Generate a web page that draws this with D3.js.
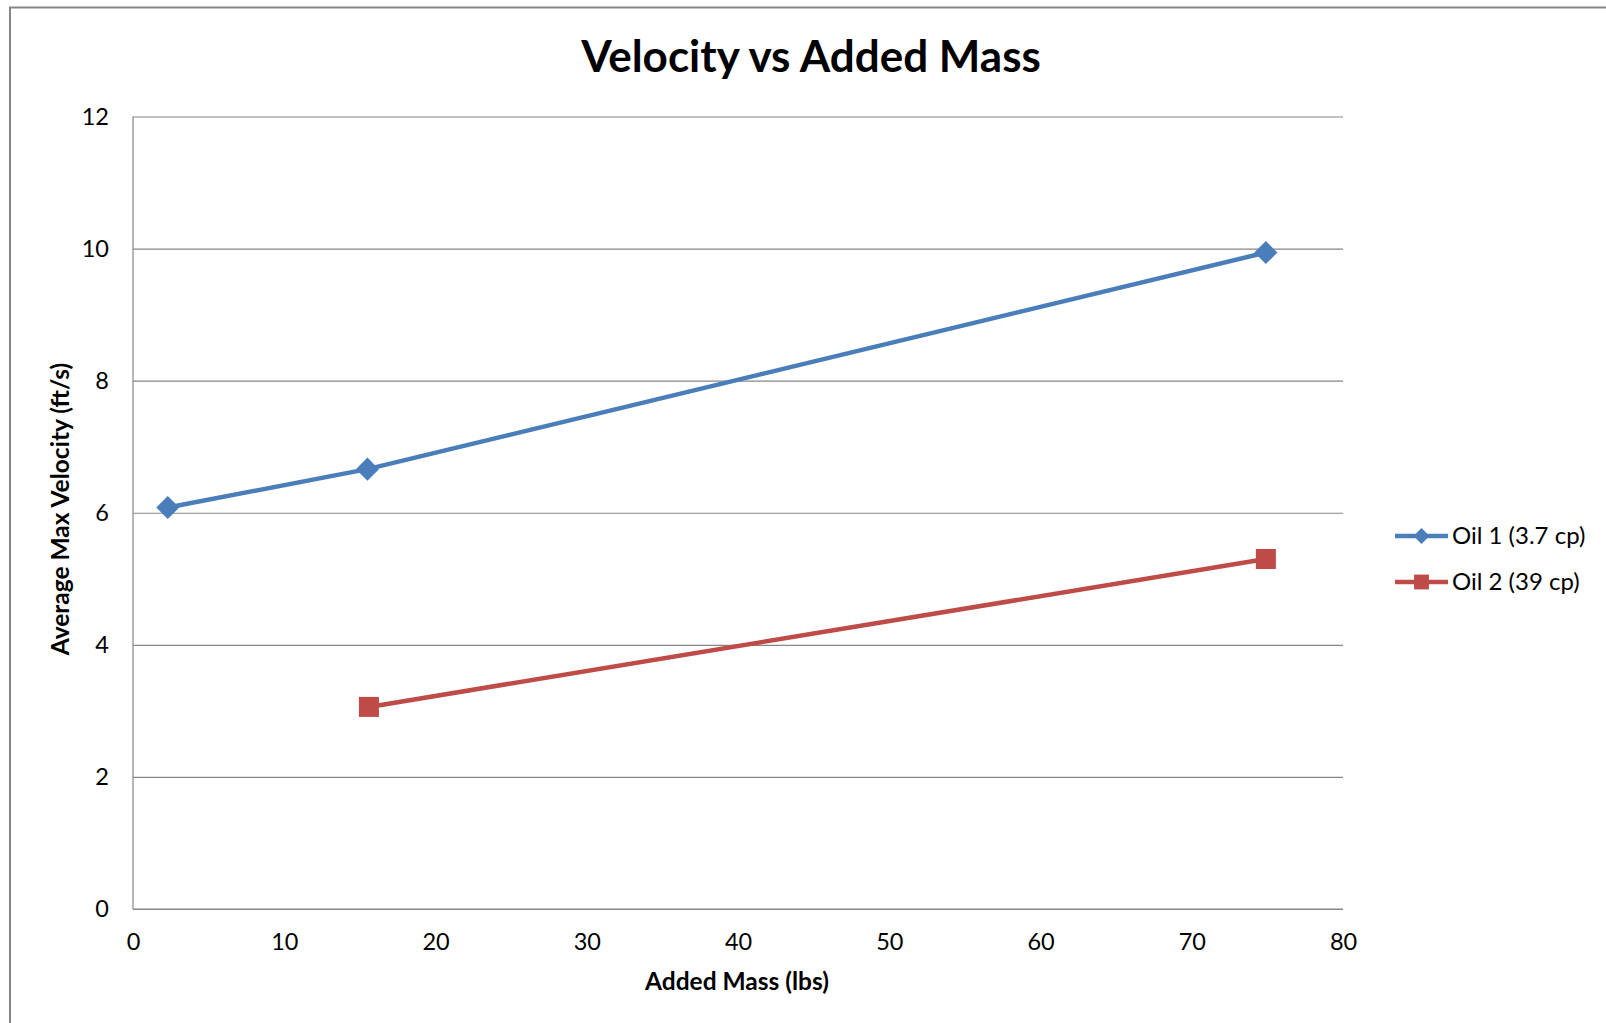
<!DOCTYPE html>
<html>
<head>
<meta charset="utf-8">
<script src="https://cdn.jsdelivr.net/npm/d3@7"></script>
<style>
    html, body { margin: 0; padding: 0; background: #fff; }
    svg { display: block; font-family: Lato, "Open Sans", sans-serif; }
</style>
</head>
<body>
<script>
// chart values
const seriesNames  = ["Oil 1 (3.7 cp)", "Oil 2 (39 cp)"];
const oil1Mass     = [2.3, 15.5, 74.9];
const oil1Velocity = [6.08, 6.66, 9.94];
const oil2Mass     = [15.6, 74.9];
const oil2Velocity = [3.06, 5.30];
const xTicks       = [0, 10, 20, 30, 40, 50, 60, 70, 80];
const yTicks       = [0, 2, 4, 6, 8, 10, 12];

const width  = 1606;
const height = 1023;
const plot   = {left: 133, right: 1343, top: 116.5, bottom: 909};

const colors  = ["#4A7EBB", "#BE4B48"];
const markers = [d3.symbolDiamond2, d3.symbolSquare];

const series = [
    {name: seriesNames[0], values: oil1Mass.map((m, i) => [m, oil1Velocity[i]])},
    {name: seriesNames[1], values: oil2Mass.map((m, i) => [m, oil2Velocity[i]])}
];

const svg = d3.select("body")
    .append("svg")
    .attr("width", width)
    .attr("height", height);

// outer chart frame (right and bottom edges run off the page)
svg.append("rect")
    .attr("x", 10)
    .attr("y", 7.5)
    .attr("width", width + 100)
    .attr("height", height + 100)
    .attr("fill", "#fff")
    .attr("stroke", "#868686")
    .attr("stroke-width", 2);

let x = d3.scaleLinear().domain([0, 80]).range([plot.left, plot.right]);
let y = d3.scaleLinear().domain([0, 12]).range([plot.bottom, plot.top]);

// gridlines + y labels
let yAxis = svg.append("g")
    .attr("transform", "translate(" + plot.left + ",0)")
    .call(d3.axisLeft(y)
        .tickValues(yTicks)
        .tickSize(-(plot.right - plot.left))
        .tickPadding(24)
        .tickFormat(d3.format("d")));

yAxis.select(".domain").remove();
yAxis.selectAll(".tick line")
    .attr("stroke", "#868686")
    .attr("stroke-width", 1.2);
yAxis.selectAll(".tick text")
    .attr("fill", "#000")
    .attr("font-size", 23.5)
    .attr("font-family", "Lato, sans-serif");

let xAxis = svg.append("g")
    .attr("transform", "translate(0," + plot.bottom + ")")
    .call(d3.axisBottom(x)
        .tickValues(xTicks)
        .tickSize(0)
        .tickPadding(24)
        .tickFormat(d3.format("d")));

xAxis.select(".domain").remove();
xAxis.selectAll(".tick text")
    .attr("fill", "#000")
    .attr("font-size", 23.5)
    .attr("font-family", "Lato, sans-serif");

// axis lines
svg.append("line")
    .attr("x1", plot.left).attr("x2", plot.left)
    .attr("y1", plot.top).attr("y2", plot.bottom)
    .attr("stroke", "#868686")
    .attr("stroke-width", 1.2);
svg.append("line")
    .attr("x1", plot.left).attr("x2", plot.right)
    .attr("y1", plot.bottom).attr("y2", plot.bottom)
    .attr("stroke", "#868686")
    .attr("stroke-width", 1.2);

// series
let line = d3.line()
    .x(d => x(d[0]))
    .y(d => y(d[1]));

series.forEach((s, i) => {
    svg.append("path")
        .datum(s.values)
        .attr("d", line)
        .attr("fill", "none")
        .attr("stroke", colors[i])
        .attr("stroke-width", 4.5);

    svg.append("g")
        .selectAll("path")
        .data(s.values)
        .join("path")
        .attr("transform", d => "translate(" + x(d[0]) + "," + y(d[1]) + ")")
        .attr("d", d3.symbol().type(markers[i]).size(i === 0 ? 340 : 400))
        .attr("fill", colors[i]);
});

// legend
let legend = svg.append("g")
    .attr("transform", "translate(1395,536)");

series.forEach((s, i) => {
    let row = legend.append("g")
        .attr("transform", "translate(0," + (i * 46) + ")");

    row.append("line")
        .attr("x1", 0).attr("x2", 53)
        .attr("stroke", colors[i])
        .attr("stroke-width", 4.5);

    row.append("path")
        .attr("transform", "translate(26.5,0)")
        .attr("d", d3.symbol().type(markers[i]).size(i === 0 ? 160 : 220))
        .attr("fill", colors[i]);

    row.append("text")
        .attr("x", 57)
        .attr("dy", "0.33em")
        .attr("font-size", 24)
        .attr("fill", "#000")
        .text(s.name);
});

// titles
svg.append("text")
    .attr("x", 811)
    .attr("y", 72)
    .attr("text-anchor", "middle")
    .attr("font-size", 44)
    .attr("font-weight", "bold")
    .attr("fill", "#000")
    .text("Velocity vs Added Mass");

svg.append("text")
    .attr("x", 737)
    .attr("y", 990)
    .attr("text-anchor", "middle")
    .attr("font-size", 24.5)
    .attr("font-weight", "bold")
    .attr("fill", "#000")
    .text("Added Mass (lbs)");

svg.append("text")
    .attr("transform", "translate(69,509) rotate(-90)")
    .attr("text-anchor", "middle")
    .attr("font-size", 24.5)
    .attr("font-weight", "bold")
    .attr("fill", "#000")
    .text("Average Max Velocity (ft/s)");
</script>
</body>
</html>
